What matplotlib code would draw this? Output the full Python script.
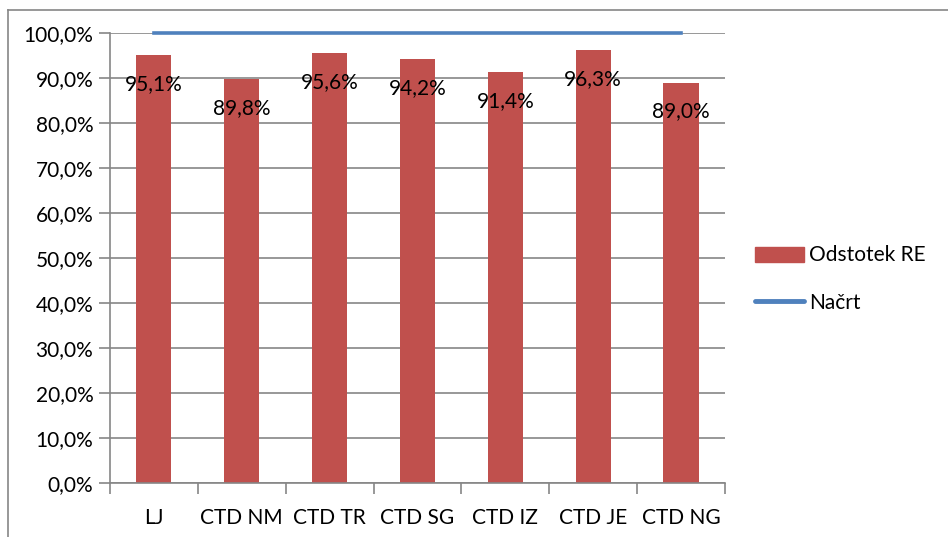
import matplotlib
matplotlib.use("Agg")
import matplotlib.pyplot as plt
from matplotlib.lines import Line2D
from matplotlib.ticker import FuncFormatter, MultipleLocator

categories = ["LJ", "CTD NM", "CTD TR", "CTD SG", "CTD IZ", "CTD JE", "CTD NG"]
odstotek_re = [95.1, 89.8, 95.6, 94.2, 91.4, 96.3, 89.0]
nacrt = [100.0, 100.0, 100.0, 100.0, 100.0, 100.0, 100.0]

RED = "#C0504D"
BLUE = "#4F81BD"
GRID = "#868686"
FONT = "Lato"
FS = 15

plt.rcParams["font.family"] = [FONT, "DejaVu Sans"]

W, H = 948, 537
fig = plt.figure(figsize=(W / 100, H / 100), dpi=100)
ax = fig.add_axes([110 / W, 1 - 483 / H, (725 - 110) / W, (483 - 33) / H])

x = list(range(len(categories)))
ax.bar(x, odstotek_re, width=0.4, color=RED, zorder=2, label="Odstotek RE")
ax.plot(x, nacrt, color=BLUE, lw=2.6, zorder=3, clip_on=False, label="Načrt")

for xi, v in zip(x, odstotek_re):
    ax.annotate(f"{v:.1f}%".replace(".", ","), (xi, v), xytext=(0, -29),
                textcoords="offset pixels", ha="center", va="center",
                fontsize=FS, zorder=4)

ax.set_xlim(-0.5, len(categories) - 0.5)
ax.set_ylim(0, 100)
ax.yaxis.set_major_locator(MultipleLocator(10))
ax.yaxis.set_major_formatter(FuncFormatter(lambda v, p: f"{v:.1f}%".replace(".", ",")))
ax.grid(axis="y", color=GRID, lw=1.2, zorder=0)
ax.set_axisbelow(True)

ax.set_xticks([i - 0.5 for i in range(len(categories) + 1)])
ax.set_xticklabels([])
ax.set_xticks(x, minor=True)
ax.set_xticklabels(categories, minor=True)
ax.tick_params(axis="x", which="major", length=8, color=GRID, width=1.2)
ax.tick_params(axis="x", which="minor", length=0, pad=18, labelsize=FS)
ax.tick_params(axis="y", length=8, color=GRID, width=1.2, labelsize=FS, pad=4)

for s in ("top", "right"):
    ax.spines[s].set_visible(False)
for s in ("left", "bottom"):
    ax.spines[s].set_color(GRID)
    ax.spines[s].set_linewidth(1.2)

handles = [
    plt.Rectangle((0, 0), 1, 1, color=RED),
    Line2D([0], [0], color=BLUE, lw=3.5, solid_capstyle="round"),
]
fig.legend(handles, ["Odstotek RE", "Načrt"], loc="center left",
           bbox_to_anchor=(755 / W, 1 - 279 / H), frameon=False,
           borderpad=0, borderaxespad=0,
           fontsize=FS, handlelength=2.35, handleheight=0.75,
           handletextpad=0.25, labelspacing=1.3)

# chart frame (only top and left edges visible)
fig.add_artist(Line2D([8 / W, 8 / W], [0, 1 - 10 / H], color=GRID, lw=1.2))
fig.add_artist(Line2D([8 / W, 1], [1 - 10 / H, 1 - 10 / H], color=GRID, lw=1.2))

fig.savefig("out.png", dpi=100)
